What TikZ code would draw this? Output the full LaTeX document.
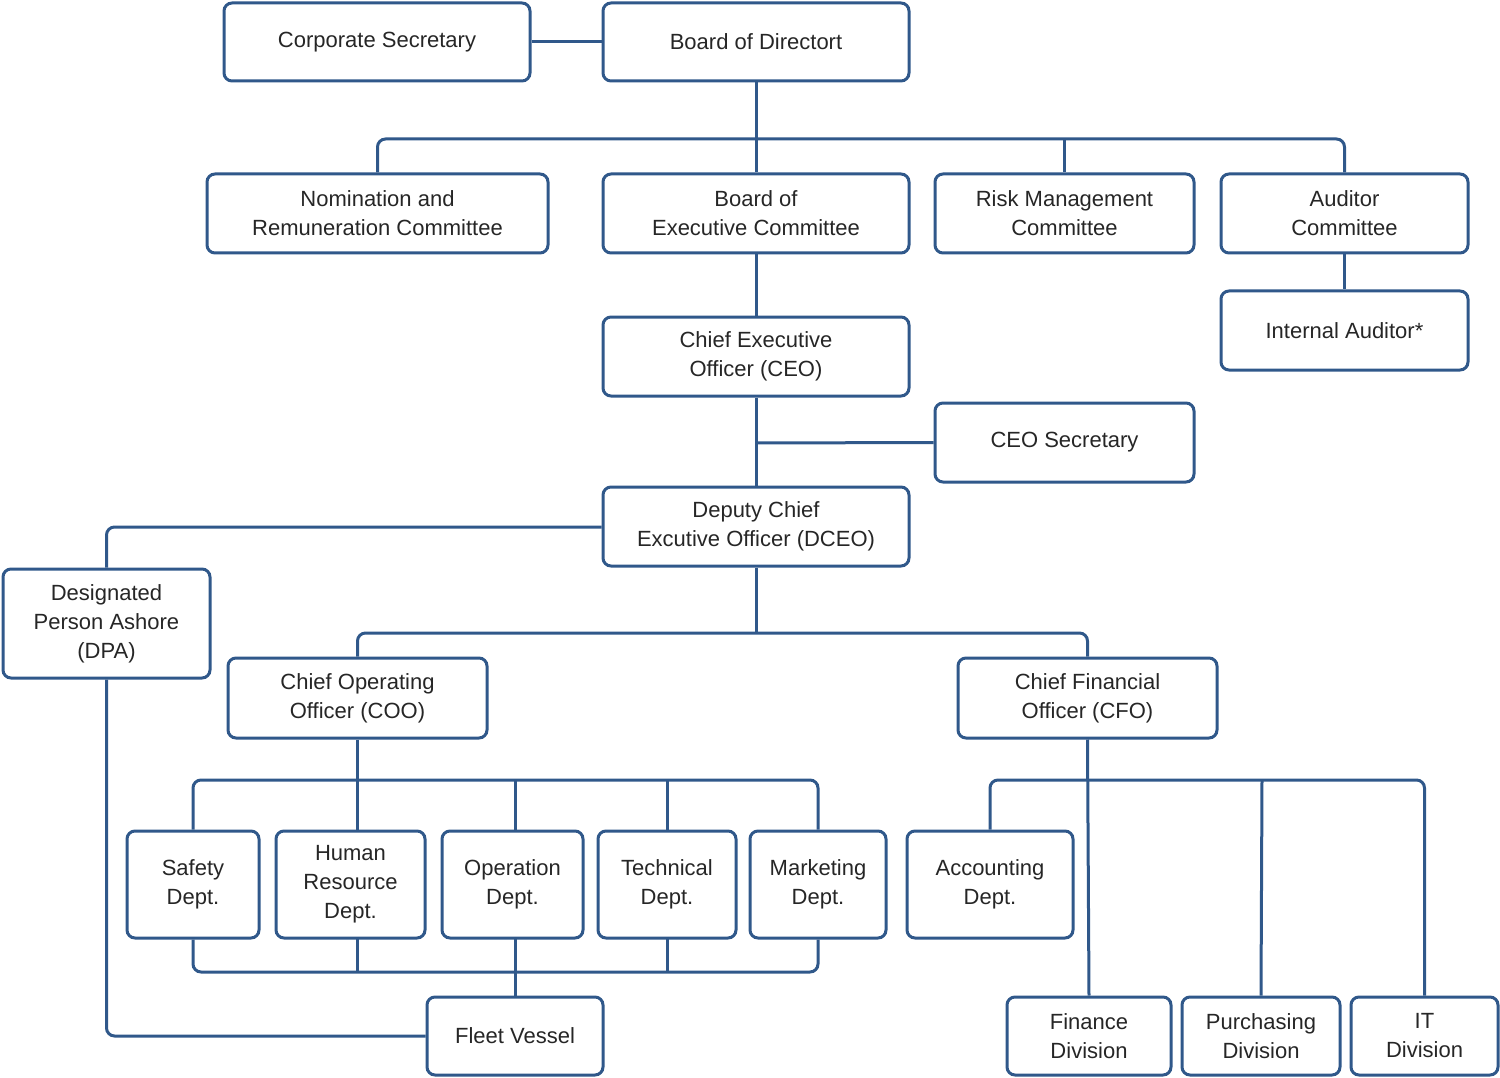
\documentclass[tikz,border=0pt]{standalone}
\usepackage{fontspec}
\setmainfont{Liberation Sans}
\definecolor{orgblue}{HTML}{30588A}
\tikzset{
  box/.style={draw=orgblue, line width=3pt, rounded corners=8pt, align=center,
    inner sep=0pt, font=\fontsize{22}{29}\selectfont, text=black!85},
  link/.style={draw=orgblue, line width=3pt}
}
\begin{document}
\begin{tikzpicture}[x=1pt,y=-1pt]
\useasboundingbox (0,0) rectangle (1500,1078);

% top level
\node[box, minimum width=306, minimum height=78] (corpsec) at (377,42) {Corporate Secretary};
\node[box, minimum width=306, minimum height=78] (bod) at (756,42) {Board of Directort};

% committees
\node[box, minimum width=341, minimum height=79] (nom) at (377.5,213.5) {Nomination and\\Remuneration Committee};
\node[box, minimum width=306, minimum height=79] (bec) at (756,213.5) {Board of\\Executive Committee};
\node[box, minimum width=259, minimum height=79] (risk) at (1064.5,213.5) {Risk Management\\Committee};
\node[box, minimum width=247, minimum height=79] (aud) at (1344.5,213.5) {Auditor\\Committee};
\node[box, minimum width=247, minimum height=79] (intaud) at (1344.5,330.5) {Internal Auditor*};

% executives
\node[box, minimum width=306, minimum height=79] (ceo) at (756,356.5) {Chief Executive\\Officer (CEO)};
\node[box, minimum width=259, minimum height=79] (ceosec) at (1064.5,442.5) {CEO Secretary};
\node[box, minimum width=306, minimum height=79] (dceo) at (756,526.5) {Deputy Chief\\Excutive Officer (DCEO)};
\node[box, minimum width=207, minimum height=109] (dpa) at (106.5,623.5) {Designated\\Person Ashore\\(DPA)};
\node[box, minimum width=259, minimum height=80] (coo) at (357.5,698) {Chief Operating\\Officer (COO)};
\node[box, minimum width=259, minimum height=80] (cfo) at (1087.5,698) {Chief Financial\\Officer (CFO)};

% departments
\node[box, minimum width=132, minimum height=107] (safety) at (193,884.5) {Safety\\Dept.};
\node[box, minimum width=149, minimum height=107] (hr) at (350.5,884.5) {Human\\Resource\\Dept.};
\node[box, minimum width=141, minimum height=107] (oper) at (512.5,884.5) {Operation\\Dept.};
\node[box, minimum width=138, minimum height=107] (tech) at (667,884.5) {Technical\\Dept.};
\node[box, minimum width=136, minimum height=107] (mkt) at (818,884.5) {Marketing\\Dept.};
\node[box, minimum width=166, minimum height=107] (acc) at (990,884.5) {Accounting\\Dept.};

% bottom row
\node[box, minimum width=176, minimum height=78] (fleet) at (515,1036) {Fleet Vessel};
\node[box, minimum width=164, minimum height=78] (fin) at (1089,1036) {Finance\\Division};
\node[box, minimum width=158, minimum height=78] (purch) at (1261,1036) {Purchasing\\Division};
\node[box, minimum width=147, minimum height=78] (it) at (1424.5,1036) {IT\\Division};

% connectors
\draw[link] (corpsec.east) -- (bod.west);
\draw[link] (bod.south) -- (bec.north);
\draw[link, rounded corners=8pt] (nom.north) |- (756,139) -| (aud.north);
\draw[link] (risk.north) -- (1064.5,139);
\draw[link] (aud.south) -- (intaud.north);
\draw[link] (bec.south) -- (ceo.north);
\draw[link] (ceo.south) -- (dceo.north);
\draw[link] (756,443) -- (ceosec.west);
\draw[link, rounded corners=8pt] (dceo.west |- 0,527) -| (dpa.north);
\draw[link, rounded corners=8pt] (dpa.south) |- (fleet.west);
\draw[link] (dceo.south) -- (756,633);
\draw[link, rounded corners=8pt] (coo.north) |- (756,633) -| (cfo.north);

% COO departments
\draw[link] (coo.south) -- (357.5,831);
\draw[link, rounded corners=8pt] (safety.north) |- (515,780) -| (mkt.north);
\draw[link] (515,780) -- (515,831);
\draw[link] (667,780) -- (tech.north);
\draw[link, rounded corners=8pt] (safety.south) |- (515,972) -| (mkt.south);
\draw[link] (357.5,938) -- (357.5,972);
\draw[link] (515,938) -- (fleet.north);
\draw[link] (667,938) -- (667,972);

% CFO divisions
\draw[link] (cfo.south) -- (fin.north);
\draw[link, rounded corners=8pt] (acc.north) |- (1200,780) -| (it.north);
\draw[link] (1262,780) -- (purch.north);
\end{tikzpicture}
\end{document}
